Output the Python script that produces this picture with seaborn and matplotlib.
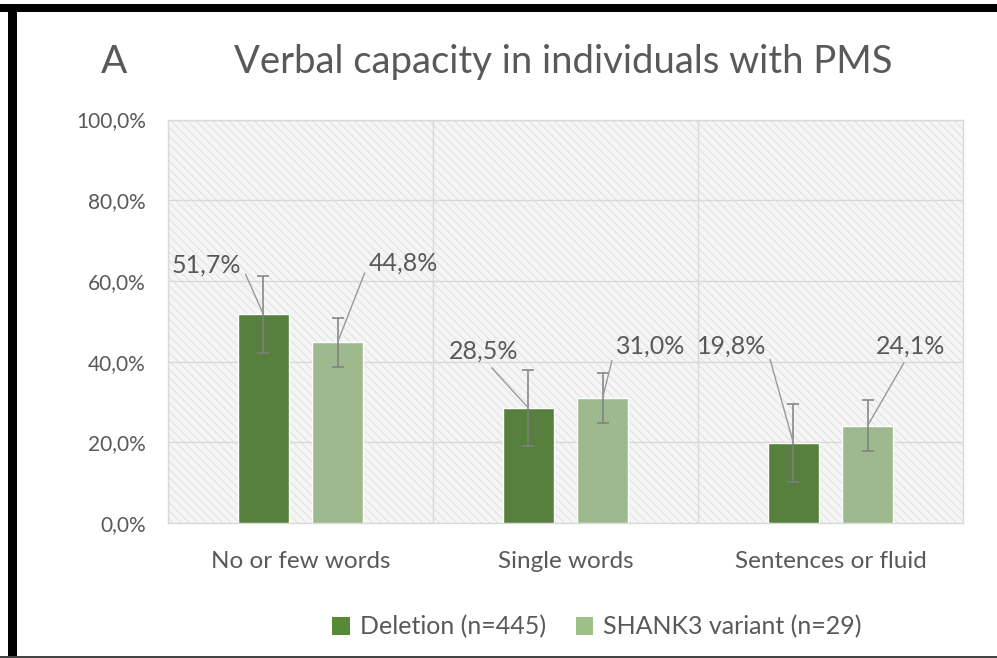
import pandas as pd
import seaborn as sns
import matplotlib.pyplot as plt
from matplotlib.patches import Rectangle, Patch

categories = ["No or few words", "Single words", "Sentences or fluid"]
groups = ["Deletion (n=445)", "SHANK3 variant (n=29)"]
deletion = [51.7, 28.5, 19.8]
shank3 = [44.8, 31.0, 24.1]
deletion_err = [9.6, 9.5, 9.6]
shank3_err = [6.1, 6.2, 6.3]
y_ticks = [0, 20, 40, 60, 80, 100]

# label placement (offset from bar top, pixels) and where the leader line leaves the text
label_offsets = [[(-57, 49), (-45, 57), (-62, 97)],
                 [(66, 79), (48, 52), (43, 80)]]
label_relpos = [[(1, 0.55), (0.55, 0), (1, 0.55)],
                [(0, 0.55), (0, 0.55), (0.45, 0)]]

colors = ["#548b34", "#9cc087"]
txt = "#595959"

sns.set_style("white")
plt.rcParams['font.family'] = ['Lato', 'DejaVu Sans']
plt.rcParams['hatch.linewidth'] = 0.6

df = pd.DataFrame({
    "category": categories * 2,
    "group": [groups[0]] * 3 + [groups[1]] * 3,
    "value": deletion + shank3,
})

fig = plt.figure(figsize=(9.97, 6.58), dpi=100)
ax = fig.add_axes([168 / 997, 1 - 523 / 658, 795 / 997, 403.5 / 658])

# hatched plot area
ax.add_patch(Rectangle((0, 0), 1, 1, transform=ax.transAxes, facecolor="#f5f5f5",
                       edgecolor="#dddddd", hatch="\\\\\\\\", linewidth=0, zorder=0))

sns.barplot(data=df, x="category", y="value", hue="group", palette=colors,
            width=0.56, gap=0.32, errorbar=None, legend=False, ax=ax, zorder=3)
bar_groups = list(ax.containers)

ax.set_ylim(0, 100)
ax.set_xlim(-0.5, 2.5)
ax.set_yticks(y_ticks)
ax.set_yticklabels([f"{v:.1f}".replace(".", ",") + "%" for v in y_ticks])
ax.set_xlabel("")
ax.set_ylabel("")
ax.tick_params(axis="both", length=0, colors=txt)
ax.tick_params(axis="y", labelsize=15, pad=16)
ax.tick_params(axis="x", labelsize=17.5, pad=20)
for lab in ax.get_yticklabels() + ax.get_xticklabels():
    lab.set_color(txt)

for yv in y_ticks[1:]:
    ax.axhline(yv, color="#d9d9d9", lw=1, zorder=1)
for xv in [0.5, 1.5]:
    ax.axvline(xv, color="#d9d9d9", lw=1, zorder=1)
for s in ax.spines.values():
    s.set_color("#d9d9d9")
    s.set_linewidth(1)

vals = [deletion, shank3]
errs = [deletion_err, shank3_err]
for i, cont in enumerate(bar_groups):
    xs = [p.get_x() + p.get_width() / 2 for p in cont.patches]
    hs = [p.get_height() for p in cont.patches]
    ax.errorbar(xs, hs, yerr=errs[i], fmt="none", ecolor="#7f7f7f",
                elinewidth=1.1, capsize=4, capthick=1.1, zorder=4)
    for j, (x, h) in enumerate(zip(xs, hs)):
        ax.annotate(f"{vals[i][j]:.1f}".replace(".", ",") + "%",
                    xy=(x, h), xytext=label_offsets[i][j], textcoords="offset pixels",
                    ha="center", va="center", fontsize=18, color=txt, zorder=5,
                    arrowprops=dict(arrowstyle="-", color="#999999", lw=1,
                                    shrinkA=2, shrinkB=0, relpos=label_relpos[i][j]))

fig.text(114 / 997, 1 - 62 / 658, "A", ha="center", va="center", fontsize=28, color=txt)
fig.text(563 / 997, 1 - 62 / 658, "Verbal capacity in individuals with PMS",
         ha="center", va="center", fontsize=27.5, color=txt)

handles = [Patch(facecolor=c, edgecolor="none") for c in colors]
leg = fig.legend(handles, groups, loc="center", bbox_to_anchor=(597 / 997, 1 - 627 / 658),
                 ncol=2, frameon=False, fontsize=18, handlelength=0.7, handleheight=0.7,
                 handletextpad=0.4, columnspacing=1.2)
for t in leg.get_texts():
    t.set_color(txt)

# black frame (top and left) and thin bottom edge
fig.add_artist(Rectangle((0, 1 - 12 / 658), 1, 8 / 658, transform=fig.transFigure,
                         facecolor="black", edgecolor="none"))
fig.add_artist(Rectangle((8 / 997, 0), 9 / 997, 1 - 4 / 658, transform=fig.transFigure,
                         facecolor="black", edgecolor="none"))
fig.add_artist(Rectangle((0, 0), 1, 2 / 658, transform=fig.transFigure,
                         facecolor="#444444", edgecolor="none"))

fig.savefig("out.png", dpi=100)
